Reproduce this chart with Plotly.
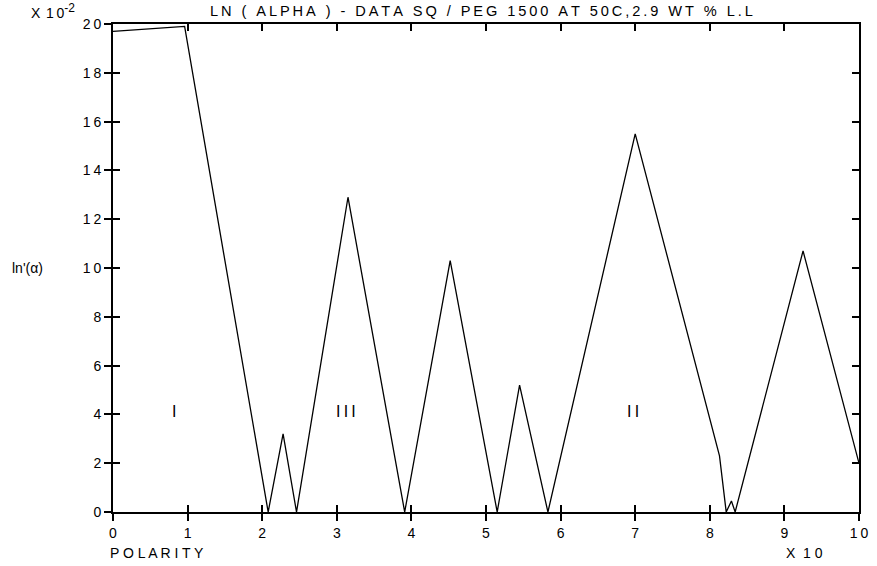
import plotly.graph_objects as go

# Polarity (x 10) and ln'(alpha) (x 10^-2) for the SQ / PEG 1500 system
polarity = [0.0, 0.96, 2.08, 2.28, 2.46, 3.15, 3.91, 4.52, 5.15, 5.45, 5.83,
            7.0, 8.13, 8.22, 8.29, 8.34, 9.25, 10.0]
ln_alpha = [19.7, 19.9, 0.0, 3.2, 0.0, 12.9, 0.0, 10.3, 0.0, 5.2, 0.0,
            15.5, 2.3, 0.0, 0.45, 0.0, 10.7, 2.0]

x_ticks = [0, 1, 2, 3, 4, 5, 6, 7, 8, 9, 10]
y_ticks = [0, 2, 4, 6, 8, 10, 12, 14, 16, 18, 20]

region_names = ["I", "III", "II"]
region_x = [0.82, 3.12, 6.97]
region_y = [4.1, 4.1, 4.1]

FONT = "Liberation Sans, Arial, sans-serif"
THIN = "\u2009"


def spaced(s):
    """Open up the lettering with thin spaces between characters."""
    return THIN.join(s)


W, H = 877, 566
ML, MR, MT, MB = 113, 9, 24, 54

fig = go.Figure()
fig.add_trace(go.Scatter(x=polarity, y=ln_alpha, mode="lines",
                         line=dict(color="black", width=1.3),
                         showlegend=False, hoverinfo="skip"))
# transparent copy on the overlay axes so their inside ticks are drawn
fig.add_trace(go.Scatter(x=polarity, y=ln_alpha, xaxis="x2", yaxis="y2",
                         mode="lines", line=dict(color="black", width=0.5),
                         opacity=0.0, showlegend=False, hoverinfo="skip"))

axis_common = dict(showgrid=False, zeroline=False, linecolor="black",
                   linewidth=2, tickcolor="black", tickwidth=2)

fig.update_layout(
    width=W, height=H,
    margin=dict(l=ML, r=MR, t=MT, b=MB),
    paper_bgcolor="white", plot_bgcolor="white",
    font=dict(family=FONT, size=14, color="black"),
    xaxis=dict(range=[0, 10], tickvals=x_ticks,
               ticktext=[spaced(str(v)) for v in x_ticks],
               ticks="outside", ticklen=7, mirror=True, showline=True,
               tickfont=dict(size=14), **axis_common),
    yaxis=dict(range=[0, 20], tickvals=y_ticks,
               ticktext=[spaced(str(v)) for v in y_ticks],
               ticks="outside", ticklen=7, mirror=True, showline=True,
               tickfont=dict(size=14), **axis_common),
    xaxis2=dict(range=[0, 10], overlaying="x", tickvals=x_ticks, ticks="inside",
                ticklen=7, mirror="ticks", showticklabels=False, showline=False,
                anchor="y2", side="bottom", **axis_common),
    yaxis2=dict(range=[0, 20], overlaying="y", tickvals=y_ticks, ticks="inside",
                ticklen=7, mirror="ticks", showticklabels=False, showline=False,
                anchor="x2", side="left", **axis_common),
)

for name, rx, ry in zip(region_names, region_x, region_y):
    fig.add_annotation(x=rx, y=ry, xref="x", yref="y", text=spaced(name),
                       showarrow=False, font=dict(family=FONT, size=16, color="black"))

annotations = [
    dict(text="X" + THIN * 2 + "1" + THIN + "0<sup><span style='font-size:12px'>-2</span></sup>",
         x=28, y=H - 11, size=14),
    dict(text=spaced("LN ( ALPHA ) - DATA SQ / PEG 1500 AT 50C,2.9 WT % L.L"),
         x=209, y=H - 11, size=14.6),
    dict(text="ln'(\u03b1)", x=9, y=H - 268, size=14),
    dict(text="P O L A R I T Y", x=108, y=H - 553, size=14),
    dict(text="X  1 0", x=792, y=H - 553, size=14),
]
for a in annotations:
    fig.add_annotation(xref="paper", yref="paper", showarrow=False,
                       font=dict(family=FONT, size=a["size"], color="black"),
                       x=(a["x"] - ML) / (W - ML - MR),
                       y=(a["y"] - MB) / (H - MT - MB),
                       text=a["text"], xanchor="left", yanchor="middle")

fig.write_html("out.html")
